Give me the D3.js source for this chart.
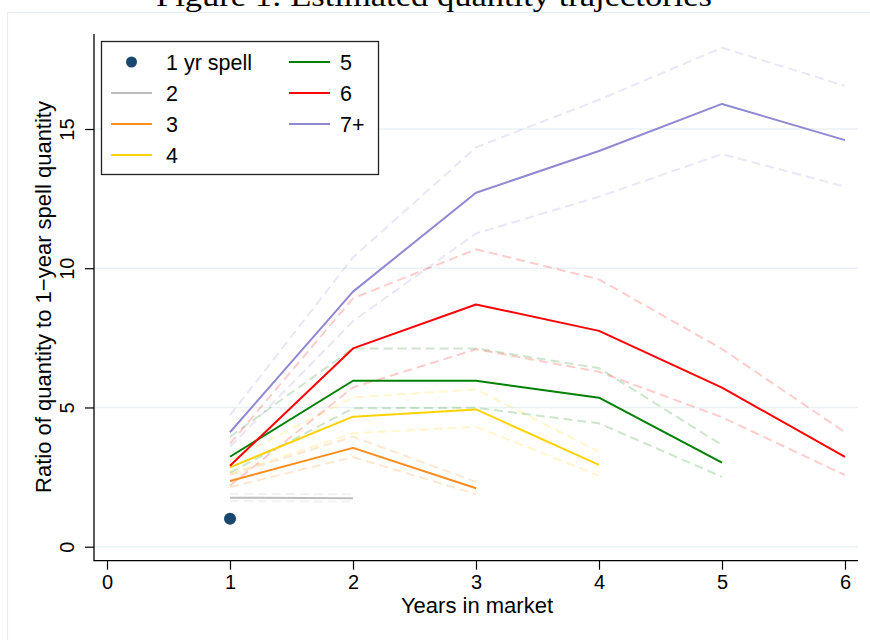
<!DOCTYPE html>
<html>
<head>
<meta charset="utf-8">
<script src="https://cdn.jsdelivr.net/npm/d3@7"></script>
<style>
  html, body { margin: 0; padding: 0; background: #ffffff; }
  svg { display: block; }
  text { font-family: "Liberation Sans", Arial, sans-serif; fill: #000; }
</style>
</head>
<body>
<svg id="chart" width="870" height="640"></svg>
<script>
// Years since entry
const years = [1, 2, 3, 4, 5, 6];

// Single-year spells (reference point)
const oneYear = [1.0];

// Point estimates and 95% bands by spell length
const est2 = [1.76, 1.74];
const lo2  = [1.64, 1.62];
const hi2  = [1.90, 1.88];

const est3 = [2.36, 3.55, 2.10];
const lo3  = [2.14, 3.22, 1.89];
const hi3  = [2.58, 3.95, 2.33];

const est4 = [2.85, 4.67, 4.93, 2.94];
const lo4  = [2.62, 4.07, 4.31, 2.55];
const hi4  = [3.10, 5.36, 5.65, 3.41];

const est5 = [3.23, 5.96, 5.96, 5.35, 3.02];
const lo5  = [2.66, 4.97, 4.99, 4.43, 2.51];
const hi5  = [3.95, 7.12, 7.12, 6.41, 3.65];

const est6 = [2.91, 7.12, 8.70, 7.75, 5.71, 3.23];
const lo6  = [2.20, 5.72, 7.09, 6.28, 4.65, 2.57];
const hi6  = [3.70, 8.92, 10.68, 9.60, 7.10, 4.11];

const est7 = [4.11, 9.16, 12.71, 14.21, 15.90, 14.60];
const lo7  = [3.59, 8.10, 11.25, 12.57, 14.10, 12.93];
const hi7  = [4.72, 10.39, 14.34, 16.05, 17.92, 16.55];

const xTicks = [0, 1, 2, 3, 4, 5, 6];
const yTicks = [0, 5, 10, 15];

const seriesNames = ["2", "3", "4", "5", "6", "7+"];
const seriesColors = ["#bdbdbd", "#ff8c1a", "#ffd200", "#008000", "#ff0000", "#8f88d2"];
const dotColor = "#1a476f";

const series = [
  { name: seriesNames[0], color: seriesColors[0], est: est2, lo: lo2, hi: hi2 },
  { name: seriesNames[1], color: seriesColors[1], est: est3, lo: lo3, hi: hi3 },
  { name: seriesNames[2], color: seriesColors[2], est: est4, lo: lo4, hi: hi4 },
  { name: seriesNames[3], color: seriesColors[3], est: est5, lo: lo5, hi: hi5 },
  { name: seriesNames[4], color: seriesColors[4], est: est6, lo: lo6, hi: hi6 },
  { name: seriesNames[5], color: seriesColors[5], est: est7, lo: lo7, hi: hi7 }
];

const svg = d3.select("#chart");

// Plot region
const plotLeft = 94, plotRight = 858, plotTop = 34, plotBottom = 560.7;

const x = d3.scaleLinear().domain([0, 6]).range([107, 845]);
const y = d3.scaleLinear().domain([0, 15]).range([546.7, 129]);

// Outer panel
svg.append("rect")
  .attr("x", 7.5).attr("y", 12.5)
  .attr("width", 880).attr("height", 650)
  .attr("fill", "#ffffff")
  .attr("stroke", "#e6ecef").attr("stroke-width", 1.2);

// Title (partly above the frame)
svg.append("text")
  .attr("x", 434).attr("y", 6)
  .attr("text-anchor", "middle")
  .attr("textLength", 556)
  .attr("lengthAdjust", "spacingAndGlyphs")
  .style("font-family", "'Liberation Serif', 'DejaVu Serif', serif")
  .style("font-size", "30px")
  .text("Figure 1: Estimated quantity trajectories");

// Horizontal grid lines
svg.append("g").selectAll("line")
  .data(yTicks)
  .join("line")
  .attr("x1", plotLeft).attr("x2", plotRight)
  .attr("y1", d => y(d)).attr("y2", d => y(d))
  .attr("stroke", "#eaf1f3").attr("stroke-width", 1.6);

// Axes
const yAxis = d3.axisLeft(y).tickValues(yTicks).tickSize(9).tickFormat(d3.format("d"));
const gy = svg.append("g").attr("transform", `translate(${plotLeft},0)`).call(yAxis);
gy.select(".domain").remove();
gy.selectAll(".tick line").attr("stroke", "#000").attr("stroke-width", 1.2);
gy.selectAll(".tick text")
  .attr("x", 0).attr("dy", null).attr("y", 0)
  .attr("text-anchor", "middle")
  .attr("transform", "translate(-20.5,0) rotate(-90)")
  .style("font-size", "20px")
  .style("font-family", "'Liberation Sans', Arial, sans-serif")
  .attr("fill", "#000");

const xAxis = d3.axisBottom(x).tickValues(xTicks).tickSize(9).tickPadding(5).tickFormat(d3.format("d"));
const gx = svg.append("g").attr("transform", `translate(0,${plotBottom})`).call(xAxis);
gx.select(".domain").remove();
gx.selectAll(".tick line").attr("stroke", "#000").attr("stroke-width", 1.2);
gx.selectAll(".tick text")
  .style("font-size", "20px")
  .style("font-family", "'Liberation Sans', Arial, sans-serif")
  .attr("fill", "#000");

// Axis lines
svg.append("line")
  .attr("x1", plotLeft).attr("x2", plotLeft)
  .attr("y1", plotTop).attr("y2", plotBottom + 0.6)
  .attr("stroke", "#000").attr("stroke-width", 1.3);
svg.append("line")
  .attr("x1", plotLeft).attr("x2", plotRight)
  .attr("y1", plotBottom).attr("y2", plotBottom)
  .attr("stroke", "#000").attr("stroke-width", 1.3);

// Axis titles
svg.append("text")
  .attr("x", 477).attr("y", 613)
  .attr("text-anchor", "middle")
  .style("font-size", "22px")
  .text("Years in market");

svg.append("text")
  .attr("transform", "translate(50.5,297) rotate(-90)")
  .attr("text-anchor", "middle")
  .style("font-size", "22px")
  .text("Ratio of quantity to 1\u2212year spell quantity");

// Line generator over years
const line = d3.line()
  .x((d, i) => x(years[i]))
  .y(d => y(d));

// Confidence bands (dashed, faint)
const bands = svg.append("g");
series.forEach(s => {
  [s.lo, s.hi].forEach(arr => {
    bands.append("path")
      .attr("d", line(arr))
      .attr("fill", "none")
      .attr("stroke", s.color)
      .attr("stroke-opacity", 0.2)
      .attr("stroke-width", 2)
      .attr("stroke-dasharray", "9,5");
  });
});

// Point estimates
const lines = svg.append("g");
series.forEach(s => {
  lines.append("path")
    .attr("d", line(s.est))
    .attr("fill", "none")
    .attr("stroke", s.color)
    .attr("stroke-width", 2)
    .attr("stroke-linejoin", "round");
});

// One-year spell marker
svg.append("g").selectAll("circle")
  .data(oneYear)
  .join("circle")
  .attr("cx", (d, i) => x(years[i]))
  .attr("cy", d => y(d))
  .attr("r", 6)
  .attr("fill", dotColor);

// Legend
const legend = svg.append("g");
legend.append("rect")
  .attr("x", 101.5).attr("y", 41.5)
  .attr("width", 277).attr("height", 133)
  .attr("fill", "#ffffff")
  .attr("stroke", "#222").attr("stroke-width", 1.3);

const rowY = [62, 93, 124, 155];
const legendItems = [
  { label: "1 yr spell", color: dotColor, dot: true, col: 0, row: 0 },
  { label: seriesNames[0], color: seriesColors[0], col: 0, row: 1 },
  { label: seriesNames[1], color: seriesColors[1], col: 0, row: 2 },
  { label: seriesNames[2], color: seriesColors[2], col: 0, row: 3 },
  { label: seriesNames[3], color: seriesColors[3], col: 1, row: 0 },
  { label: seriesNames[4], color: seriesColors[4], col: 1, row: 1 },
  { label: seriesNames[5], color: seriesColors[5], col: 1, row: 2 }
];
const colKey = [[111, 152], [289, 330]];
const colText = [166, 340];

legendItems.forEach(item => {
  const [k0, k1] = colKey[item.col];
  const cy = rowY[item.row];
  if (item.dot) {
    legend.append("circle")
      .attr("cx", (k0 + k1) / 2).attr("cy", cy)
      .attr("r", 5.5).attr("fill", item.color);
  } else {
    legend.append("line")
      .attr("x1", k0).attr("x2", k1)
      .attr("y1", cy).attr("y2", cy)
      .attr("stroke", item.color).attr("stroke-width", 2);
  }
  legend.append("text")
    .attr("x", colText[item.col]).attr("y", cy + 7.8)
    .style("font-size", "21.5px")
    .text(item.label);
});
</script>
</body>
</html>
